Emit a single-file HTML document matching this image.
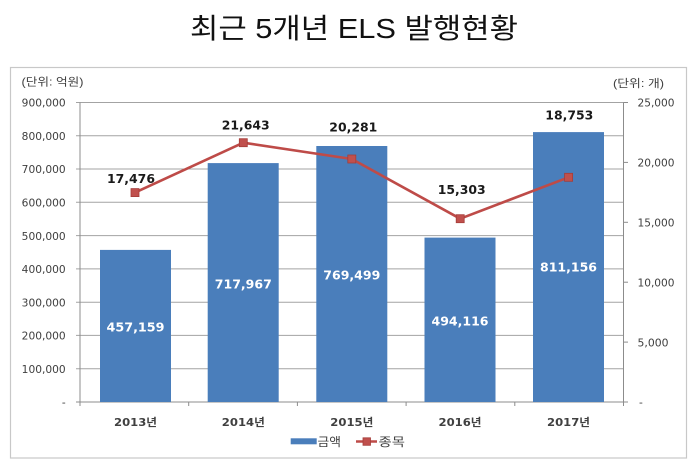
<!DOCTYPE html>
<html>
<head>
<meta charset="utf-8">
<style>
  html,body{margin:0;padding:0;background:#fff;}
  body{width:700px;height:473px;overflow:hidden;}
  svg{display:block;}
  .ax{font-family:"DejaVu Sans","Noto Sans CJK KR",sans-serif;font-size:10.6px;fill:#404040;}
  .kr{font-family:"Liberation Sans","Noto Sans CJK KR",sans-serif;}
  .dl{font-family:"DejaVu Sans","Noto Sans CJK KR",sans-serif;font-size:12.8px;font-weight:bold;}
</style>
</head>
<body>
<svg width="700" height="473" viewBox="0 0 700 473" xmlns="http://www.w3.org/2000/svg">
  <!-- Title -->
  <text x="354" y="38" text-anchor="middle" class="kr" font-size="28" fill="#111" textLength="328" lengthAdjust="spacingAndGlyphs">최근 5개년 ELS 발행현황</text>

  <!-- Chart border -->
  <rect x="10.5" y="67.5" width="676" height="390.5" fill="#fff" stroke="#c8c8c8" stroke-width="1.2"/>

  <!-- Units -->
  <text x="21.5" y="85.5" class="kr" font-size="11" fill="#404040" textLength="62" lengthAdjust="spacingAndGlyphs">(단위: 억원)</text>
  <text x="613" y="87" class="kr" font-size="11" fill="#404040" textLength="51" lengthAdjust="spacingAndGlyphs">(단위: 개)</text>

  <!-- Gridlines -->
  <g stroke="#a3a3a3" stroke-width="1">
    <line x1="76" y1="102.5" x2="623.5" y2="102.5"/>
    <line x1="76" y1="135.8" x2="623.5" y2="135.8"/>
    <line x1="76" y1="169.0" x2="623.5" y2="169.0"/>
    <line x1="76" y1="202.3" x2="623.5" y2="202.3"/>
    <line x1="76" y1="235.6" x2="623.5" y2="235.6"/>
    <line x1="76" y1="268.9" x2="623.5" y2="268.9"/>
    <line x1="76" y1="302.2" x2="623.5" y2="302.2"/>
    <line x1="76" y1="335.4" x2="623.5" y2="335.4"/>
    <line x1="76" y1="368.7" x2="623.5" y2="368.7"/>
  </g>
  <!-- Axes -->
  <g stroke="#8c8c8c" stroke-width="1">
    <line x1="80" y1="102.5" x2="80" y2="402"/>
    <line x1="623.5" y1="102.5" x2="623.5" y2="402"/>
    <line x1="76" y1="402" x2="628" y2="402"/>
    <!-- right ticks -->
    <line x1="623.5" y1="102.5" x2="628" y2="102.5"/>
    <line x1="623.5" y1="162.4" x2="628" y2="162.4"/>
    <line x1="623.5" y1="222.3" x2="628" y2="222.3"/>
    <line x1="623.5" y1="282.2" x2="628" y2="282.2"/>
    <line x1="623.5" y1="342.1" x2="628" y2="342.1"/>
    <!-- category ticks -->
    <line x1="80" y1="402" x2="80" y2="406"/>
    <line x1="188.7" y1="402" x2="188.7" y2="406"/>
    <line x1="297.4" y1="402" x2="297.4" y2="406"/>
    <line x1="406.1" y1="402" x2="406.1" y2="406"/>
    <line x1="514.8" y1="402" x2="514.8" y2="406"/>
    <line x1="623.5" y1="402" x2="623.5" y2="406"/>
  </g>

  <!-- Left axis labels -->
  <g class="ax" text-anchor="end">
    <text x="65.7" y="106.7" textLength="44" lengthAdjust="spacingAndGlyphs">900,000</text>
    <text x="65.7" y="140.0" textLength="44" lengthAdjust="spacingAndGlyphs">800,000</text>
    <text x="65.7" y="173.2" textLength="44" lengthAdjust="spacingAndGlyphs">700,000</text>
    <text x="65.7" y="206.5" textLength="44" lengthAdjust="spacingAndGlyphs">600,000</text>
    <text x="65.7" y="239.8" textLength="44" lengthAdjust="spacingAndGlyphs">500,000</text>
    <text x="65.7" y="273.1" textLength="44" lengthAdjust="spacingAndGlyphs">400,000</text>
    <text x="65.7" y="306.4" textLength="44" lengthAdjust="spacingAndGlyphs">300,000</text>
    <text x="65.7" y="339.6" textLength="44" lengthAdjust="spacingAndGlyphs">200,000</text>
    <text x="65.7" y="372.9" textLength="44" lengthAdjust="spacingAndGlyphs">100,000</text>
    <text x="65.7" y="406.2">-</text>
  </g>
  <!-- Right axis labels -->
  <g class="ax" text-anchor="start">
    <text x="637.5" y="106.7" textLength="37" lengthAdjust="spacingAndGlyphs">25,000</text>
    <text x="637.5" y="166.6" textLength="37" lengthAdjust="spacingAndGlyphs">20,000</text>
    <text x="637.5" y="226.5" textLength="37" lengthAdjust="spacingAndGlyphs">15,000</text>
    <text x="637.5" y="286.4" textLength="37" lengthAdjust="spacingAndGlyphs">10,000</text>
    <text x="637.5" y="346.3" textLength="31" lengthAdjust="spacingAndGlyphs">5,000</text>
    <text x="639" y="406.2">-</text>
  </g>

  <!-- Bars -->
  <g fill="#4a7ebb">
    <rect x="100" y="249.9" width="71" height="152.1"/>
    <rect x="207.7" y="163.1" width="71" height="238.9"/>
    <rect x="316.3" y="146.0" width="71" height="256.0"/>
    <rect x="424.5" y="237.6" width="71" height="164.4"/>
    <rect x="533" y="132.1" width="71" height="269.9"/>
  </g>

  <!-- Bar labels -->
  <g class="dl" fill="#ffffff" text-anchor="middle">
    <text x="135.5" y="331.3" textLength="58" lengthAdjust="spacingAndGlyphs">457,159</text>
    <text x="243.3" y="288.6" textLength="57" lengthAdjust="spacingAndGlyphs">717,967</text>
    <text x="351.8" y="279.6" textLength="57" lengthAdjust="spacingAndGlyphs">769,499</text>
    <text x="460" y="325.3" textLength="57" lengthAdjust="spacingAndGlyphs">494,116</text>
    <text x="568.5" y="271.6" textLength="57" lengthAdjust="spacingAndGlyphs">811,156</text>
  </g>

  <!-- Line -->
  <polyline points="135,192.6 243.3,142.7 351.8,159.0 460.2,218.7 568.6,177.3" fill="none" stroke="#be4b48" stroke-width="2.6" stroke-linejoin="round"/>
  <g fill="#c0504d" stroke="#a53c39" stroke-width="0.8">
    <rect x="131" y="188.6" width="8" height="8"/>
    <rect x="239.3" y="138.7" width="8" height="8"/>
    <rect x="347.8" y="155.0" width="8" height="8"/>
    <rect x="456.2" y="214.7" width="8" height="8"/>
    <rect x="564.6" y="173.3" width="8" height="8"/>
  </g>

  <!-- Line labels -->
  <g class="dl" fill="#1a1a1a" text-anchor="middle">
    <text x="131" y="182.9" textLength="48" lengthAdjust="spacingAndGlyphs">17,476</text>
    <text x="245.7" y="129.6" textLength="48" lengthAdjust="spacingAndGlyphs">21,643</text>
    <text x="353.3" y="131.3" textLength="48" lengthAdjust="spacingAndGlyphs">20,281</text>
    <text x="461.7" y="193.9" textLength="48" lengthAdjust="spacingAndGlyphs">15,303</text>
    <text x="569.3" y="119.6" textLength="48" lengthAdjust="spacingAndGlyphs">18,753</text>
  </g>

  <!-- Category labels -->
  <g font-family="'DejaVu Sans','Noto Sans CJK KR',sans-serif" font-size="11" font-weight="bold" fill="#404040" text-anchor="middle">
    <text x="135.5" y="425.8" textLength="43" lengthAdjust="spacingAndGlyphs">2013년</text>
    <text x="243.3" y="425.8" textLength="43" lengthAdjust="spacingAndGlyphs">2014년</text>
    <text x="351.8" y="425.8" textLength="43" lengthAdjust="spacingAndGlyphs">2015년</text>
    <text x="460" y="425.8" textLength="43" lengthAdjust="spacingAndGlyphs">2016년</text>
    <text x="568.5" y="425.8" textLength="43" lengthAdjust="spacingAndGlyphs">2017년</text>
  </g>

  <!-- Legend -->
  <rect x="290.7" y="438.3" width="26" height="6" fill="#4a7ebb"/>
  <text x="317.5" y="446" class="kr" font-size="12" fill="#404040" textLength="23.5" lengthAdjust="spacingAndGlyphs">금액</text>
  <line x1="356" y1="441.5" x2="377" y2="441.5" stroke="#be4b48" stroke-width="2.6"/>
  <rect x="363" y="437.8" width="7.5" height="7.5" fill="#c0504d" stroke="#a53c39" stroke-width="0.8"/>
  <text x="378.5" y="446" class="kr" font-size="12" fill="#404040" textLength="26.5" lengthAdjust="spacingAndGlyphs">종목</text>
</svg>
</body>
</html>
